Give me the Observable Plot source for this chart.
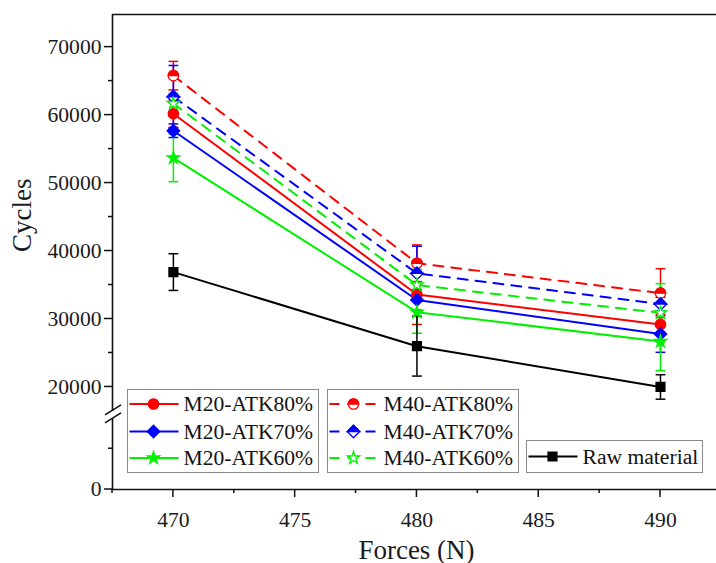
<!DOCTYPE html>
<html><head><meta charset="utf-8">
<script src="https://cdn.jsdelivr.net/npm/d3@7"></script>
<script src="https://cdn.jsdelivr.net/npm/@observablehq/plot@0.6"></script>
<style>body{margin:0;background:#fff} svg{display:block} #chart svg text{font-family:"Liberation Serif","Times New Roman",serif}</style>
</head><body><div id="chart"></div>
<script>
// ---------- data ----------
const forces = [470, 480, 490];
const seriesNames = ["M20-ATK80%", "M20-ATK70%", "M20-ATK60%", "M40-ATK80%", "M40-ATK70%", "M40-ATK60%", "Raw material"];
const seriesColors = ["#ff0000", "#0000ff", "#00f000", "#ff0000", "#0000ff", "#00f000", "#000000"];
const seriesDashed = [false, false, false, true, true, true, false];
const m20atk80 = [60200, 33600, 29200];
const m20atk70 = [57700, 32800, 27800];
const m20atk60 = [53700, 31000, 26700];
const m40atk80 = [65800, 38200, 33800];
const m40atk70 = [62700, 36700, 32200];
const m40atk60 = [61700, 35000, 30900];
const rawMaterial = [36900, 26000, 20000];
const m20atk80Err = [2000, 4400, 1500];
const m20atk70Err = [1000, 1500, 2700];
const m20atk60Err = [3500, 3100, 4300];
const m40atk80Err = [2100, 2700, 3600];
const m40atk70Err = [4600, 4000, 1000];
const m40atk60Err = [1500, 2300, 4300];
const rawMaterialErr = [2700, 4400, 1800];
const seriesValues = [m20atk80, m20atk70, m20atk60, m40atk80, m40atk70, m40atk60, rawMaterial];
const seriesErrors = [m20atk80Err, m20atk70Err, m20atk60Err, m40atk80Err, m40atk70Err, m40atk60Err, rawMaterialErr];

const xTicks = [470, 475, 480, 485, 490];
const xMinorTicks = [467.5, 472.5, 477.5, 482.5, 487.5];
const yTicks = [0, 20000, 30000, 40000, 50000, 60000, 70000];
const yMinorTicks = [5000, 25000, 35000, 45000, 55000, 65000];
const xDomain = [467.5, 492.3];
const yTop = 74800;
const yBreak = [8700, 16400];   // axis broken between these values
const upperShift = 4912;        // upper segment offset
const lowerFactor = 1.2;        // lower segment stretch

// broken-axis transform
const f = v => v <= yBreak[0] ? v * lowerFactor : v - upperShift;
const finv = d => d <= f(yBreak[0]) ? d / lowerFactor : d + upperShift;

// ---------- symbols ----------
const rad = size => Math.sqrt(size / Math.PI);
const diamond = {draw(c, s) { const r = rad(s) * 1.2; c.moveTo(0, -r); c.lineTo(r, 0); c.lineTo(0, r); c.lineTo(-r, 0); c.closePath(); }};
const topDiamond = {draw(c, s) { const r = rad(s) * 1.2; c.moveTo(0, -r); c.lineTo(r, 0); c.lineTo(-r, 0); c.closePath(); }};
const topCircle = {draw(c, s) { const r = rad(s); c.moveTo(r, 0); c.arc(0, 0, r, 0, Math.PI, true); c.closePath(); }};
const red = seriesColors[0], blue = seriesColors[1], green = seriesColors[2];
const markerSpecs = [
  [{symbol: "circle", fill: red, stroke: red, r: 5.2}],
  [{symbol: diamond, fill: blue, stroke: blue, r: 5.2}],
  [{symbol: "star", fill: green, stroke: green, r: 3.9}],
  [{symbol: "circle", fill: "white", stroke: red, r: 5.2}, {symbol: topCircle, fill: red, stroke: red, r: 5.2}],
  [{symbol: diamond, fill: "white", stroke: blue, r: 5.2}, {symbol: topDiamond, fill: blue, stroke: blue, r: 5.2}],
  [{symbol: "star", fill: "white", stroke: green, r: 3.9}],
  [{symbol: "square", fill: "#000", stroke: "#000", r: 5}]
];

const rowsBySeries = seriesNames.map((name, i) => forces.map((x, j) => {
  const v = seriesValues[i][j], e = seriesErrors[i][j];
  return {series: name, x, v, d: f(v), lo: f(v - e), hi: f(v + e)};
}));

const errMarks = [], lineMarks = [], dotMarks = [];
rowsBySeries.forEach((rows, i) => {
  const stroke = seriesColors[i];
  errMarks.push(Plot.ruleX(rows, {x: "x", y1: "lo", y2: "hi", stroke, strokeWidth: 1.5}));
  errMarks.push(Plot.link(rows, {x1: d => d.x - 0.2, x2: d => d.x + 0.2, y1: "hi", y2: "hi", stroke, strokeWidth: 1.5}));
  errMarks.push(Plot.link(rows, {x1: d => d.x - 0.2, x2: d => d.x + 0.2, y1: "lo", y2: "lo", stroke, strokeWidth: 1.5}));
  lineMarks.push(Plot.line(rows, {x: "x", y: "d", stroke, strokeWidth: 2, strokeDasharray: seriesDashed[i] ? "10,8" : null}));
  markerSpecs[i].forEach(m => dotMarks.push(Plot.dot(rows, {x: "x", y: "d", symbol: m.symbol, r: m.r, fill: m.fill, stroke: m.stroke, strokeWidth: 1.3})));
});

const axisColor = "#111";
const chart = Plot.plot({
  width: 716, height: 563,
  marginLeft: 112, marginRight: 0, marginTop: 14, marginBottom: 74,
  style: {fontFamily: "'Liberation Serif', 'Times New Roman', serif", fontSize: "21.6px", color: "#1a1a1a", background: "#fff", overflow: "visible"},
  x: {domain: xDomain, ticks: xTicks, tickSize: 0, tickPadding: 22, tickFormat: d => String(d), label: null},
  y: {domain: [0, f(yTop)], ticks: yTicks.map(f), tickSize: 0, tickPadding: 11, tickFormat: d => String(Math.round(finv(d))), label: null},
  marks: [
    ...errMarks,
    ...lineMarks,
    ...dotMarks,
    Plot.ruleY([0], {stroke: axisColor, strokeWidth: 1.6}),
    Plot.ruleY([f(yTop)], {stroke: axisColor, strokeWidth: 1.6}),
    Plot.ruleX([xDomain[0]], {y1: 0, y2: f(yBreak[0]), stroke: axisColor, strokeWidth: 1.6}),
    Plot.ruleX([xDomain[0]], {y1: f(yBreak[1]), y2: f(yTop), stroke: axisColor, strokeWidth: 1.6}),
    Plot.text(["Forces (N)"], {text: d => d, frameAnchor: "bottom", dy: 69, dx: 2, fontSize: 27}),
    Plot.text(["Cycles"], {text: d => d, frameAnchor: "left", dx: -90, rotate: -90, fontSize: 27})
  ]
});
document.getElementById("chart").appendChild(chart);

// ---------- ticks, break marks, legend ----------
const X = chart.scale("x"), Y = chart.scale("y");
const svg = d3.select(chart);
const sx = X.apply(xDomain[0]), sy = Y.apply(0);
const ax = svg.append("g").attr("stroke", axisColor).attr("stroke-width", 1.5);
yTicks.forEach(v => { const y = Y.apply(f(v)); ax.append("line").attr("x1", sx - 8).attr("x2", sx).attr("y1", y).attr("y2", y); });
yMinorTicks.forEach(v => { const y = Y.apply(f(v)); ax.append("line").attr("x1", sx - 4).attr("x2", sx).attr("y1", y).attr("y2", y); });
xTicks.forEach(v => { const x = X.apply(v); ax.append("line").attr("x1", x).attr("x2", x).attr("y1", sy).attr("y2", sy + 8); });
xMinorTicks.forEach(v => { const x = X.apply(v); ax.append("line").attr("x1", x).attr("x2", x).attr("y1", sy).attr("y2", sy + 4); });
const yb = (Y.apply(f(yBreak[0])) + Y.apply(f(yBreak[1]))) / 2;
[-4, 4].forEach(o => {
  ax.append("line").attr("x1", sx - 7).attr("y1", yb + o + 4.4).attr("x2", sx + 9).attr("y2", yb + o - 5.6).attr("stroke-width", 1.6);
});

const lg = svg.append("g").attr("font-size", 21.6).attr("text-anchor", "start");
const boxes = [
  {x: 127.5, y: 389.5, w: 191, h: 83, items: [0, 1, 2]},
  {x: 327.5, y: 389.5, w: 191, h: 83, items: [3, 4, 5]},
  {x: 526.5, y: 440.5, w: 176, h: 32, items: [6]}
];
const rowY = [404, 431.5, 458];
boxes.forEach(b => {
  lg.append("rect").attr("x", b.x).attr("y", b.y).attr("width", b.w).attr("height", b.h)
    .attr("fill", "#fff").attr("stroke", "#8a8a8a").attr("stroke-width", 1);
  b.items.forEach((si, k) => {
    const cy = b.items.length === 1 ? b.y + b.h / 2 : rowY[k];
    const x0 = b.x + 2, x1 = b.x + 51, mx = b.x + 26;
    lg.append("line").attr("x1", x0).attr("x2", x1).attr("y1", cy).attr("y2", cy)
      .attr("stroke", seriesColors[si]).attr("stroke-width", 2)
      .attr("stroke-dasharray", seriesDashed[si] ? "10,8" : null);
    markerSpecs[si].forEach(m => {
      const type = typeof m.symbol === "string" ? {circle: d3.symbolCircle, star: d3.symbolStar, square: d3.symbolSquare}[m.symbol] : m.symbol;
      lg.append("path").attr("d", d3.symbol().type(type).size(Math.PI * m.r * m.r)())
        .attr("transform", `translate(${mx},${cy})`).attr("fill", m.fill).attr("stroke", m.stroke).attr("stroke-width", 1.3);
    });
    lg.append("text").attr("x", b.x + 56).attr("y", cy + 7).attr("fill", "#111").text(seriesNames[si]);
  });
});
</script>
</body></html>
